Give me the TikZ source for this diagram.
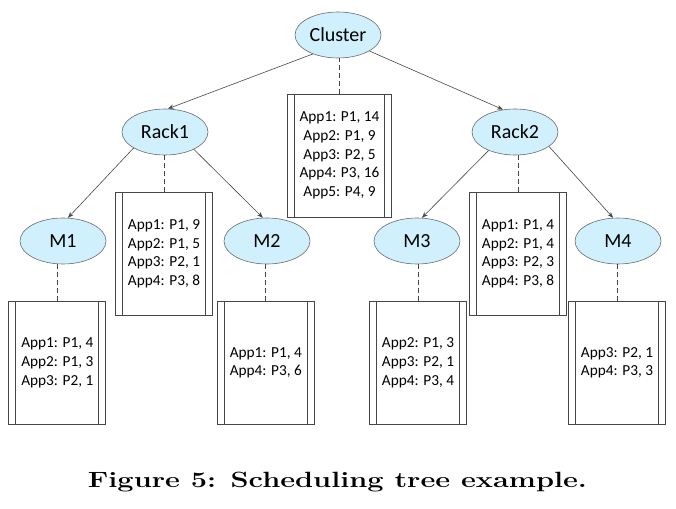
\documentclass[tikz,border=0pt]{standalone}
\usepackage{fontspec}
\setmainfont{Carlito}
\newfontfamily\capfont{Latin Modern Roman}
\usetikzlibrary{arrows.meta, shapes.geometric}
\definecolor{nodefill}{RGB}{208,240,253}
\definecolor{linegray}{RGB}{70,70,70}
\tikzset{
  host/.style={draw=linegray!80, fill=nodefill, shape=ellipse, line width=0.6pt,
    minimum width=86pt, minimum height=46pt, inner sep=0pt,
    font=\fontsize{20}{24}\selectfont},
  alloc/.style={draw=linegray, line width=0.8pt, shape=rectangle, align=center,
    minimum width=97pt, minimum height=123pt, inner sep=0pt,
    font=\fontsize{15.3}{18.7}\selectfont,
    path picture={
      \draw[linegray, line width=0.8pt]
        ([xshift=7pt]path picture bounding box.north west) -- ([xshift=7pt]path picture bounding box.south west)
        ([xshift=-7pt]path picture bounding box.north east) -- ([xshift=-7pt]path picture bounding box.south east);
    }},
}
\begin{document}
\begin{tikzpicture}[x=1pt, y=-1pt, >={Stealth[length=6pt,width=4.5pt]}]
\useasboundingbox (0,0) rectangle (676,508);
\node[host] (cluster) at (338, 35) {Cluster};
\node[host] (rack1)   at (165, 132) {Rack1};
\node[host] (rack2)   at (515, 132) {Rack2};
\node[host] (m1)      at (63, 241) {M1};
\node[host] (m2)      at (267, 241) {M2};
\node[host] (m3)      at (417, 241) {M3};
\node[host] (m4)      at (618, 241) {M4};
\node[alloc, minimum width=104pt] (cluster-box) at (339.5, 155.5) {App1: P1, 14\\App2: P1, 9\\App3: P2, 5\\App4: P3, 16\\App5: P4, 9};
\node[alloc] (rack1-box) at (164, 253.8) {App1: P1, 9\\App2: P1, 5\\App3: P2, 1\\App4: P3, 8};
\node[alloc] (rack2-box) at (518, 253.8) {App1: P1, 4\\App2: P1, 4\\App3: P2, 3\\App4: P3, 8};
\node[alloc] (m1-box) at (57.3, 362.7) {App1: P1, 4\\App2: P1, 3\\App3: P2, 1};
\node[alloc] (m2-box) at (265.8, 362.7) {App1: P1, 4\\App4: P3, 6};
\node[alloc] (m3-box) at (418, 362.7) {App2: P1, 3\\App3: P2, 1\\App4: P3, 4};
\node[alloc] (m4-box) at (617, 362.7) {App3: P2, 1\\App4: P3, 3};
\foreach \from/\to in {cluster.217/rack1.83, cluster.333/rack2.118, rack1.207/m1.78, rack1.329/m2.100, rack2.215/m3.78, rack2.337/m4.102}
\draw [->, linegray, line width=0.6pt] (\from) -- (\to);
\foreach \n in {cluster, rack1, rack2, m1, m2, m3, m4}
\draw [dashed, linegray, line width=0.8pt, dash pattern=on 5pt off 3pt] (\n-box.north) -- (\n-box.north |- \n.south);
\node[anchor=base, inner sep=0pt] (caption) at (337.5, 487.5) {\resizebox{499pt}{15.4pt}{\capfont\bfseries\fontsize{22}{26}\selectfont Figure 5: Scheduling tree example.}};
\end{tikzpicture}
\end{document}
